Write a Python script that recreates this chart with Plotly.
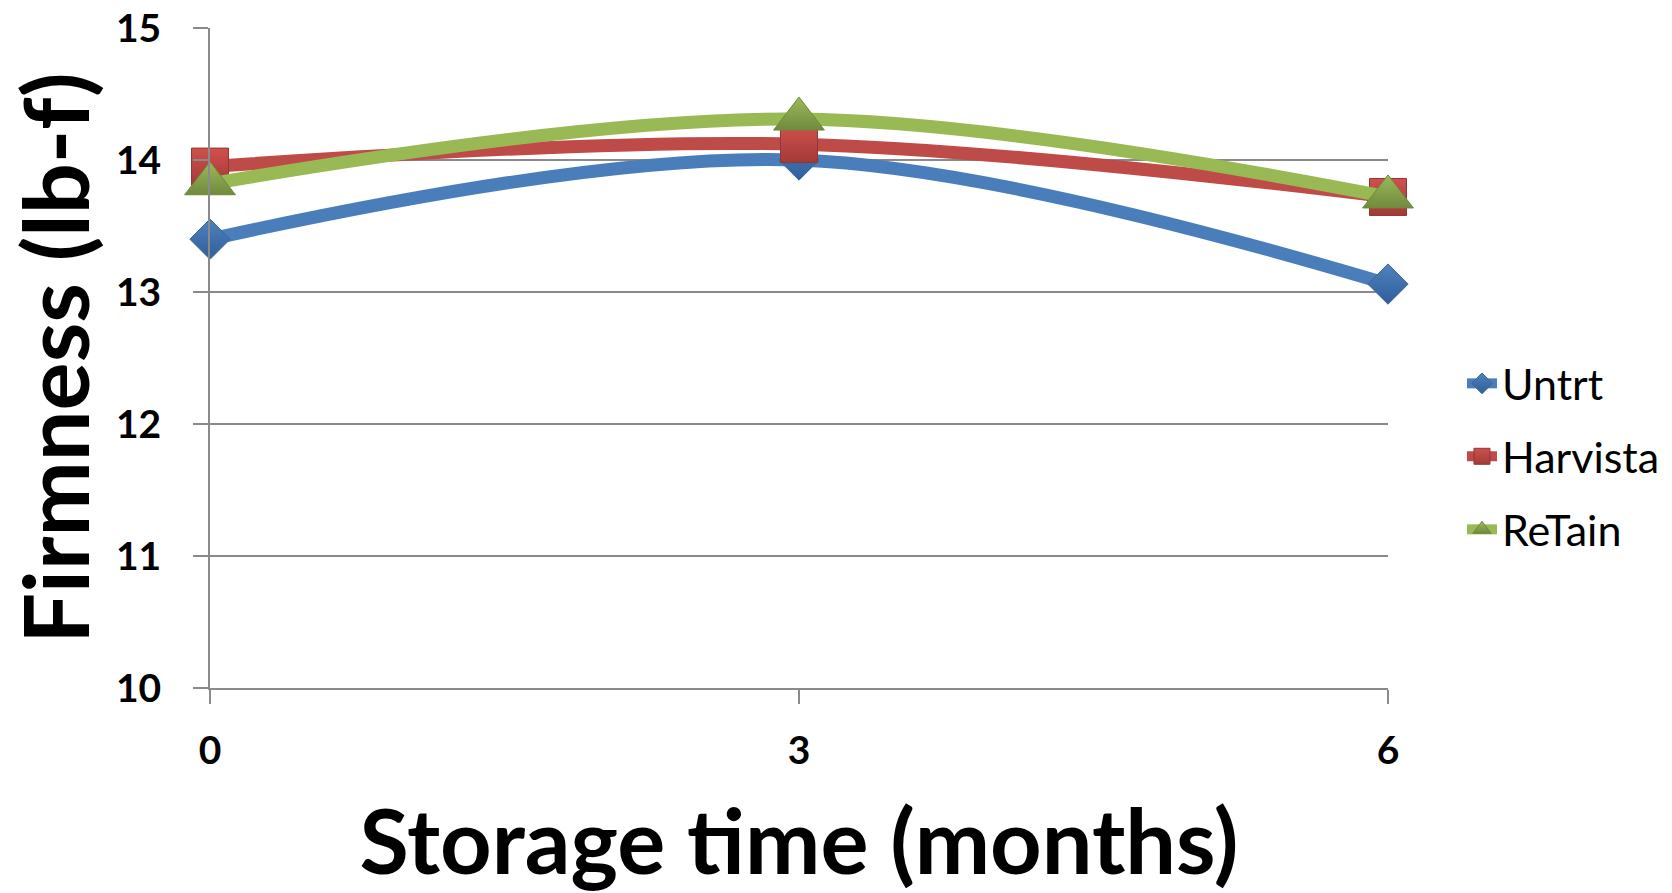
import plotly.graph_objects as go

months = [0, 3, 6]
series_names = ["Untrt", "Harvista", "ReTain"]
untrt = [13.40, 14.00, 13.06]
harvista = [13.95, 14.12, 13.72]
retain = [13.82, 14.31, 13.72]
y_ticks = [10, 11, 12, 13, 14, 15]
x_ticks = [0, 3, 6]

FONT = "Lato"
GRID = "#8a8a8a"

styles = [
    dict(line="#4A7EBB", fill="#4F81BD", grad="#2f5f9a", edge="#3a6799", symbol="diamond", size=31),
    dict(line="#BE4B48", fill="#D0504D", grad="#a33a37", edge="#8c3836", symbol="square", size=37),
    dict(line="#98B954", fill="#9BBB59", grad="#71893f", edge="#6c8a3a", symbol="triangle-up", size=44),
]
values = [untrt, harvista, retain]
legend_ids = ["legend", "legend2", "legend3"]

fig = go.Figure()
for name, vals, st, lid in zip(series_names, values, styles, legend_ids):
    fig.add_trace(go.Scatter(
        x=months, y=vals, name=name, mode="lines+markers", cliponaxis=False,
        line=dict(color=st["line"], width=13, shape="spline", smoothing=1.0),
        marker=dict(symbol=st["symbol"], size=st["size"], color=st["fill"],
                    gradient=dict(type="vertical", color=st["grad"]),
                    line=dict(color=st["edge"], width=1)),
        legend=lid,
    ))

legend_y = [0.4615, 0.351, 0.2403]
leg_common = dict(x=1.0628, xanchor="left", yanchor="middle",
                  bgcolor="rgba(0,0,0,0)", font=dict(family=FONT, size=43, color="#000000"),
                  itemsizing="trace")

fig.update_layout(
    width=1672, height=893,
    margin=dict(l=210, r=284, t=28, b=205, pad=0, autoexpand=False),
    paper_bgcolor="white", plot_bgcolor="white",
    showlegend=True,
    legend=dict(y=legend_y[0], **leg_common),
    legend2=dict(y=legend_y[1], **leg_common),
    legend3=dict(y=legend_y[2], **leg_common),
    xaxis=dict(
        range=[0, 6], tickvals=x_ticks, ticktext=[str(v) for v in x_ticks],
        automargin=False,
        showgrid=False, zeroline=False, showline=True, linecolor=GRID, linewidth=2,
        ticks="outside", ticklen=14, tickwidth=2, tickcolor=GRID,
        tickfont=dict(family=FONT, size=39, color="#000000", weight="bold"),
        ticklabelstandoff=13,
        title=dict(text="<b>Storage time (months)</b>", font=dict(family=FONT, size=90, color="#000000"),
                   standoff=42),
    ),
    yaxis=dict(
        range=[10, 15], tickvals=y_ticks, ticktext=[str(v) for v in y_ticks],
        automargin=False,
        showgrid=True, gridcolor=GRID, gridwidth=1.5, zeroline=False,
        showline=True, linecolor=GRID, linewidth=2,
        ticks="outside", ticklen=15, tickwidth=2, tickcolor=GRID,
        tickfont=dict(family=FONT, size=39, color="#000000", weight="bold"),
        ticklabelstandoff=24,
        title=dict(text="<b>Firmness (lb-f)</b>", font=dict(family=FONT, size=90, color="#000000"),
                   standoff=31),
    ),
)

fig.write_html("out.html")
